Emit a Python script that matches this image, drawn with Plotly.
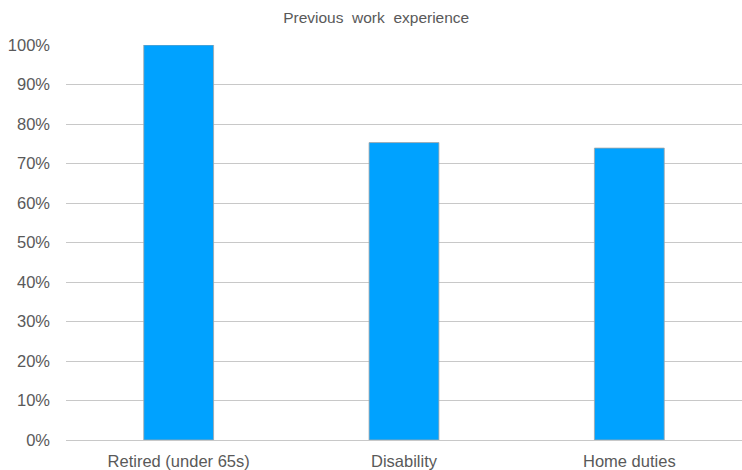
import plotly.graph_objects as go

categories = ["Retired (under 65s)", "Disability", "Home duties"]
values = [100, 75.3, 73.9]
tick_vals = [0, 10, 20, 30, 40, 50, 60, 70, 80, 90, 100]
tick_text = [f"{v}%" for v in tick_vals]

fig = go.Figure(go.Bar(
    x=categories, y=values,
    marker=dict(color="#00A2FF", line=dict(color="#A6A6A6", width=0.8)),
    hoverinfo="skip",
))

fig.update_layout(
    width=742, height=470,
    margin=dict(l=66, r=0, t=45, b=30),
    paper_bgcolor="white", plot_bgcolor="white",
    bargap=0.69,
    showlegend=False,
    font=dict(family="Liberation Sans, Arial, sans-serif", color="#595959", size=16.5),
    title=dict(text="Previous  work  experience", x=0.507, xanchor="center",
               y=0.962, yanchor="middle",
               font=dict(size=15.5, color="#595959")),
    xaxis=dict(showgrid=False, showline=False, ticks="", tickfont=dict(size=16.5),
               ticklabelstandoff=9),
    yaxis=dict(range=[0, 100], tickvals=tick_vals, ticktext=tick_text,
               showgrid=True, gridcolor="#C8C8C8", gridwidth=1,
               zeroline=True, zerolinecolor="#C8C8C8", zerolinewidth=1,
               showline=False, ticks="", ticklabelstandoff=15,
               tickfont=dict(size=16.5)),
)

fig.write_html("out.html")
